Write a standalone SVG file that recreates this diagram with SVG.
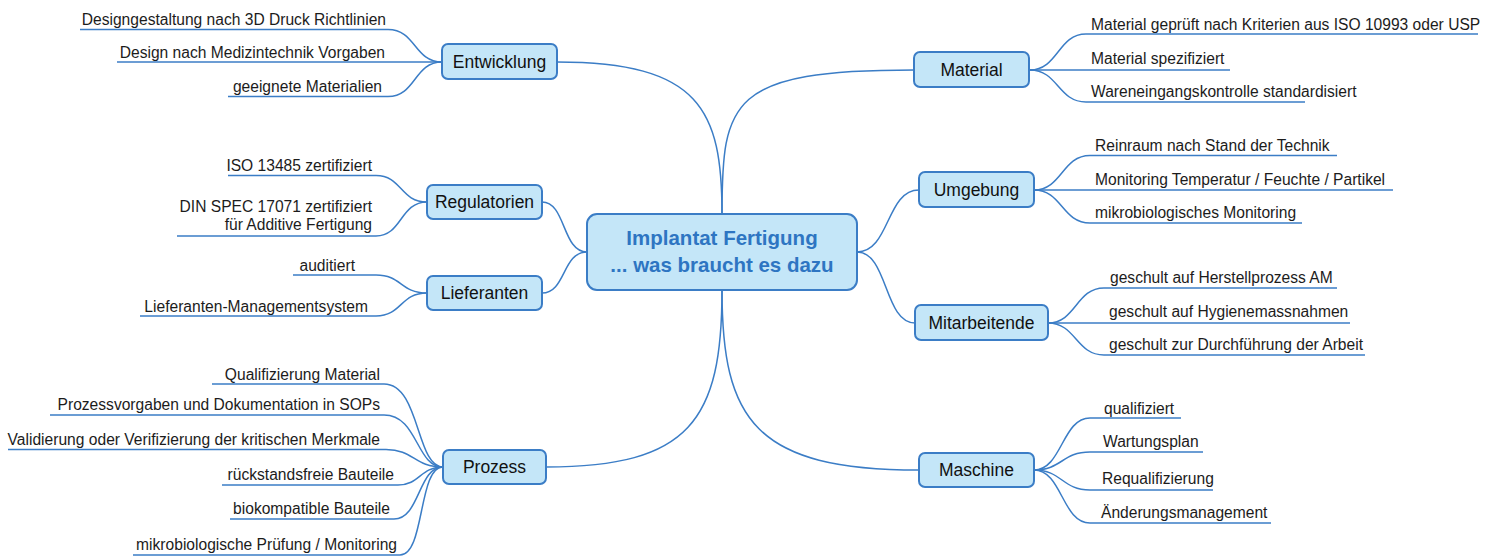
<svg xmlns="http://www.w3.org/2000/svg" width="1489" height="558" viewBox="0 0 1489 558">
<style>
.bg{fill:#ffffff}
.node rect{fill:#c4e6f8;stroke:#3b7dc6;stroke-width:2}
.node text{font-family:"Liberation Sans",Arial,sans-serif;font-size:17.5px;fill:#111;text-anchor:middle}
.center text{font-family:"Liberation Sans",Arial,sans-serif;font-size:20.5px;font-weight:bold;fill:#2e75c2;text-anchor:middle}
.conn path{fill:none;stroke:#3b7dc6;stroke-width:1.5}
.leaf{font-family:"Liberation Sans",Arial,sans-serif;font-size:15.6px;fill:#1c1c1c}
.l{text-anchor:end}
.r{text-anchor:start}
</style>
<rect class="bg" x="0" y="0" width="1489" height="558"/>

<g id="connectors" class="conn">
  <!-- center to branches -->
  <path d="M722,214 C722,110 700,62 557,62"/>
  <path d="M722,214 C722,100 730,70 914,70"/>
  <path d="M587,252 C562,252 566,202 542,202"/>
  <path d="M587,252 C562,252 566,293 542,293"/>
  <path d="M722,290 C722,420 690,467 546,467"/>
  <path d="M722,290 C722,420 755,470 919,470"/>
  <path d="M857,252 C890,252 886,190 919,190"/>
  <path d="M857,252 C888,252 884,323 915,323"/>
  <!-- Entwicklung leaves -->
  <path d="M80,29.5 H388 C416,29.5 414,62 442,62"/>
  <path d="M117,62 H442"/>
  <path d="M228,96.5 H388 C416,96.5 414,62 442,62"/>
  <!-- Regulatorien leaves -->
  <path d="M228,175.5 H376 C402,175.5 400,202 427,202"/>
  <path d="M177,236 H376 C402,236 400,202 427,202"/>
  <!-- Lieferanten leaves -->
  <path d="M293,275 H376 C402,275 400,293 427,293"/>
  <path d="M140,316 H376 C402,316 400,293 427,293"/>
  <!-- Prozess leaves -->
  <path d="M212,384 H384 C420,384 416,467 443,467"/>
  <path d="M50,415 H384 C418,415 416,467 443,467"/>
  <path d="M8,449.5 H386 C414,449.5 414,467 443,467"/>
  <path d="M222,485 H398 C420,485 420,467 443,467"/>
  <path d="M230,519 H394 C420,519 418,467 443,467"/>
  <path d="M133,555 H400 C425,555 418,467 443,467"/>
  <!-- Material leaves -->
  <path d="M1030,70 C1058,70 1058,34 1086,34 H1478"/>
  <path d="M1030,70 H1230"/>
  <path d="M1030,70 C1058,70 1058,102 1086,102 H1305"/>
  <!-- Umgebung leaves -->
  <path d="M1034,190 C1062,190 1062,155.5 1090,155.5 H1337"/>
  <path d="M1034,190 H1393"/>
  <path d="M1034,190 C1062,190 1062,223 1090,223 H1302"/>
  <!-- Mitarbeitende leaves -->
  <path d="M1048,323 C1076,323 1076,288 1104,288 H1337"/>
  <path d="M1048,323 H1350"/>
  <path d="M1048,323 C1076,323 1076,355 1104,355 H1365"/>
  <!-- Maschine leaves -->
  <path d="M1034,470 C1062,470 1062,418 1090,418 H1181"/>
  <path d="M1034,470 C1062,470 1062,452 1090,452 H1203"/>
  <path d="M1034,470 C1062,470 1062,490 1090,490 H1213"/>
  <path d="M1034,470 C1062,470 1062,523 1090,523 H1271"/>
</g>

<g id="center" class="node center">
  <rect x="587" y="214" width="270" height="76" rx="10"/>
  <text x="722" y="245">Implantat Fertigung</text>
  <text x="722" y="272">... was braucht es dazu</text>
</g>

<g id="entwicklung" class="node">
  <rect x="442" y="44" width="115" height="35" rx="6"/>
  <text x="499.5" y="68">Entwicklung</text>
</g>
<g id="regulatorien" class="node">
  <rect x="427" y="185" width="115" height="34" rx="6"/>
  <text x="484.5" y="208">Regulatorien</text>
</g>
<g id="lieferanten" class="node">
  <rect x="427" y="276" width="115" height="34" rx="6"/>
  <text x="484.5" y="299">Lieferanten</text>
</g>
<g id="prozess" class="node">
  <rect x="443" y="450" width="103" height="34" rx="6"/>
  <text x="494.5" y="473">Prozess</text>
</g>
<g id="material" class="node">
  <rect x="914" y="52" width="115" height="35" rx="6"/>
  <text x="971.5" y="76">Material</text>
</g>
<g id="umgebung" class="node">
  <rect x="919" y="172" width="115" height="35" rx="6"/>
  <text x="976.5" y="196">Umgebung</text>
</g>
<g id="mitarbeitende" class="node">
  <rect x="915" y="305" width="133" height="35" rx="6"/>
  <text x="981.5" y="329">Mitarbeitende</text>
</g>
<g id="maschine" class="node">
  <rect x="919" y="453" width="115" height="34" rx="6"/>
  <text x="976.5" y="476">Maschine</text>
</g>

<g id="leaves-entwicklung" class="leaf">
  <text class="l" x="386" y="25">Designgestaltung nach 3D Druck Richtlinien</text>
  <text class="l" x="385" y="57.5">Design nach Medizintechnik Vorgaben</text>
  <text class="l" x="382" y="92">geeignete Materialien</text>
</g>
<g id="leaves-regulatorien" class="leaf">
  <text class="l" x="372" y="171">ISO 13485 zertifiziert</text>
  <text class="l" x="372" y="212">DIN SPEC 17071 zertifiziert</text>
  <text class="l" x="372" y="230">für Additive Fertigung</text>
</g>
<g id="leaves-lieferanten" class="leaf">
  <text class="l" x="355" y="270.5">auditiert</text>
  <text class="l" x="368" y="311.5">Lieferanten-Managementsystem</text>
</g>
<g id="leaves-prozess" class="leaf">
  <text class="l" x="380" y="379.5">Qualifizierung Material</text>
  <text class="l" x="380" y="410">Prozessvorgaben und Dokumentation in SOPs</text>
  <text class="l" x="380" y="444.5">Validierung oder Verifizierung der kritischen Merkmale</text>
  <text class="l" x="394" y="480">rückstandsfreie Bauteile</text>
  <text class="l" x="390" y="514">biokompatible Bauteile</text>
  <text class="l" x="397" y="550">mikrobiologische Prüfung / Monitoring</text>
</g>
<g id="leaves-material" class="leaf">
  <text class="r" x="1091" y="29.5">Material geprüft nach Kriterien aus ISO 10993 oder USP</text>
  <text class="r" x="1091" y="64">Material spezifiziert</text>
  <text class="r" x="1091" y="97">Wareneingangskontrolle standardisiert</text>
</g>
<g id="leaves-umgebung" class="leaf">
  <text class="r" x="1095" y="151">Reinraum nach Stand der Technik</text>
  <text class="r" x="1095" y="184.5">Monitoring Temperatur / Feuchte / Partikel</text>
  <text class="r" x="1095" y="217.5">mikrobiologisches Monitoring</text>
</g>
<g id="leaves-mitarbeitende" class="leaf">
  <text class="r" x="1110" y="282.5">geschult auf Herstellprozess AM</text>
  <text class="r" x="1109" y="317">geschult auf Hygienemassnahmen</text>
  <text class="r" x="1109" y="349.5">geschult zur Durchführung der Arbeit</text>
</g>
<g id="leaves-maschine" class="leaf">
  <text class="r" x="1104" y="413.5">qualifiziert</text>
  <text class="r" x="1103" y="447">Wartungsplan</text>
  <text class="r" x="1102" y="484">Requalifizierung</text>
  <text class="r" x="1101" y="517.5">Änderungsmanagement</text>
</g>
</svg>
